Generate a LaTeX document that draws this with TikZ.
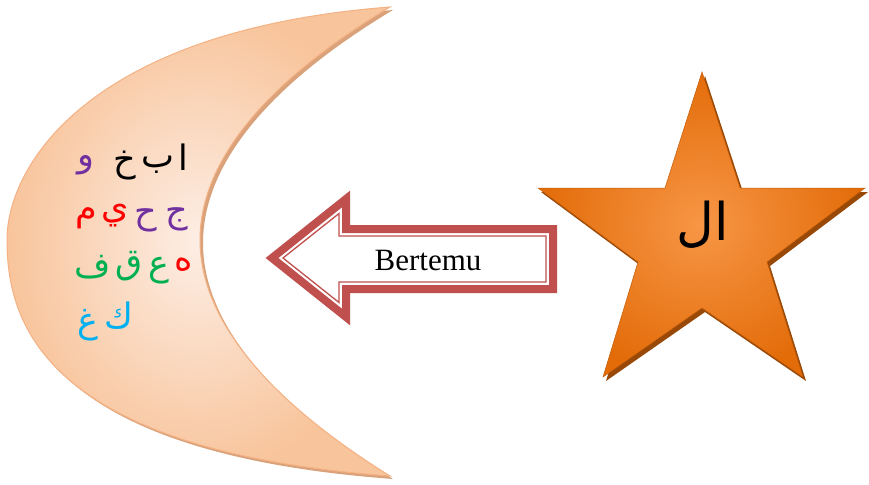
\documentclass[tikz,border=0pt]{standalone}
\usepackage{fontspec}
\setmainfont{Liberation Serif}
\newfontfamily\arabicfont[Script=Arabic]{DejaVu Sans}
\TeXXeTstate=1
\definecolor{moonedge}{HTML}{F4B183}
\definecolor{moondark}{HTML}{F8C49B}
\definecolor{moonlight}{HTML}{FDEEE5}
\definecolor{moonshadow}{HTML}{D9A27A}
\definecolor{starin}{HTML}{F79646}
\definecolor{starout}{HTML}{E36C09}
\definecolor{starshadow}{HTML}{984807}
\definecolor{arrowred}{HTML}{C0504D}
\definecolor{lpurple}{HTML}{7030A0}
\definecolor{lred}{HTML}{FF0000}
\definecolor{lgreen}{HTML}{00B050}
\definecolor{lcyan}{HTML}{00B0F0}
\begin{document}
\begin{tikzpicture}[x=1pt,y=-1pt,
  letter/.style={inner sep=0pt,font=\arabicfont\fontsize{35}{40}\selectfont},
  arrowband/.style={draw=arrowred,line width=8pt,line join=miter,fill=white},
  arrowthin/.style={draw=arrowred,line width=1.3pt,line join=miter}]
\useasboundingbox (0,0) rectangle (869,484);
\def\moonpath{(390,7) .. controls (90,30) and (7,165) .. (7,240) .. controls (7,320) and (40,450) .. (390,476) .. controls (260,395) and (200,315) .. (200,240) .. controls (200,165) and (260,85) .. (390,7) -- cycle}
\def\starpath{(702,72) -- (740,188) -- (865,188) -- (767,262) -- (803,377) -- (702,308) -- (603,377) -- (638,262) -- (538,188) -- (665,188) -- cycle}
% moon
\begin{scope}[shift={(3,3)}]
\fill[moonshadow] \moonpath;
\end{scope}
\path[inner color=moonlight,outer color=moondark,draw=moonedge,line width=1pt] \moonpath;
% star
\begin{scope}[shift={(3,4)}]
\fill[starshadow] \starpath;
\end{scope}
\path[inner color=starin,outer color=starout,draw=starout!85!black,line width=0.5pt] \starpath;
% arrow
\path[arrowband] (272,258) -- (346,199) -- (346,229) -- (553,229) -- (553,289) -- (346,289) -- (346,317) -- cycle;
\path[arrowthin] (283,258) -- (339,213.5) -- (339,236) -- (546,236) -- (546,282) -- (339,282) -- (339,302.5) -- cycle;
\node[font=\fontsize{31}{36}\selectfont,inner sep=0pt] (bertemu) at (428,260) {Bertemu};
% star text
\node[inner sep=0pt,font=\arabicfont\fontsize{52}{60}\selectfont] (al) at (703,225) {\beginR ال\endR};
% moon letters
\node[letter] (alif) at (183,157) {ا};
\node[letter] (ba) at (158,165) {ب};
\node[letter] (kha) at (125,166) {خ};
\node[letter,text=lpurple] (waw) at (86,165) {و};
\node[letter,text=lpurple] (jim) at (177,219) {ج};
\node[letter,text=lpurple] (ha) at (146,220) {ح};
\node[letter,text=lred] (ya) at (115,216) {ي};
\node[letter,text=lred] (mim) at (86,218) {م};
\node[letter,text=lred] (hha) at (184,265) {ه};
\node[letter,text=lgreen] (ain) at (159,271) {ع};
\node[letter,text=lgreen] (qaf) at (129,266) {ق};
\node[letter,text=lgreen] (fa) at (93,267) {ف};
\node[letter,text=lcyan] (kaf) at (119,316) {ك};
\node[letter,text=lcyan] (ghain) at (88,325) {غ};
\end{tikzpicture}
\end{document}
